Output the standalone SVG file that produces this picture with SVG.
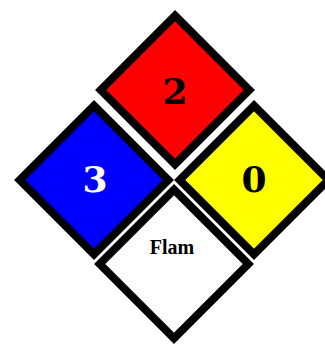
<svg xmlns="http://www.w3.org/2000/svg" width="325" height="345" viewBox="0 0 325 345">
<style>
.d{stroke:#000;stroke-width:8;stroke-linejoin:miter}
.n{font-family:"DejaVu Serif","Liberation Serif",serif;font-weight:bold;font-size:36px;text-anchor:middle}
.l{font-family:"Liberation Serif",serif;font-weight:bold;font-size:20px;text-anchor:middle;fill:#000}
</style>
<rect width="325" height="345" fill="#fff"/>
<g id="health">
<path class="d" fill="#0000ff" d="M94,105.7 L168.3,180 L94,254.3 L19.7,180Z"/>
<text class="n" x="95" y="192" fill="#fff">3</text>
</g>
<g id="flammability">
<path class="d" fill="#ff0000" d="M175,15.7 L249.3,90 L175,164.3 L100.7,90Z"/>
<text class="n" x="175" y="104" fill="#000">2</text>
</g>
<g id="instability">
<path class="d" fill="#ffff00" d="M254,105.7 L328.3,180 L254,254.3 L179.7,180Z"/>
<text class="n" x="254" y="192" fill="#000">0</text>
</g>
<g id="special">
<path class="d" fill="#fff" d="M174,189.7 L248.3,264 L174,338.3 L99.7,264Z"/>
<text class="l" x="172" y="254">Flam</text>
</g>
<g id="connectors"/>
</svg>
